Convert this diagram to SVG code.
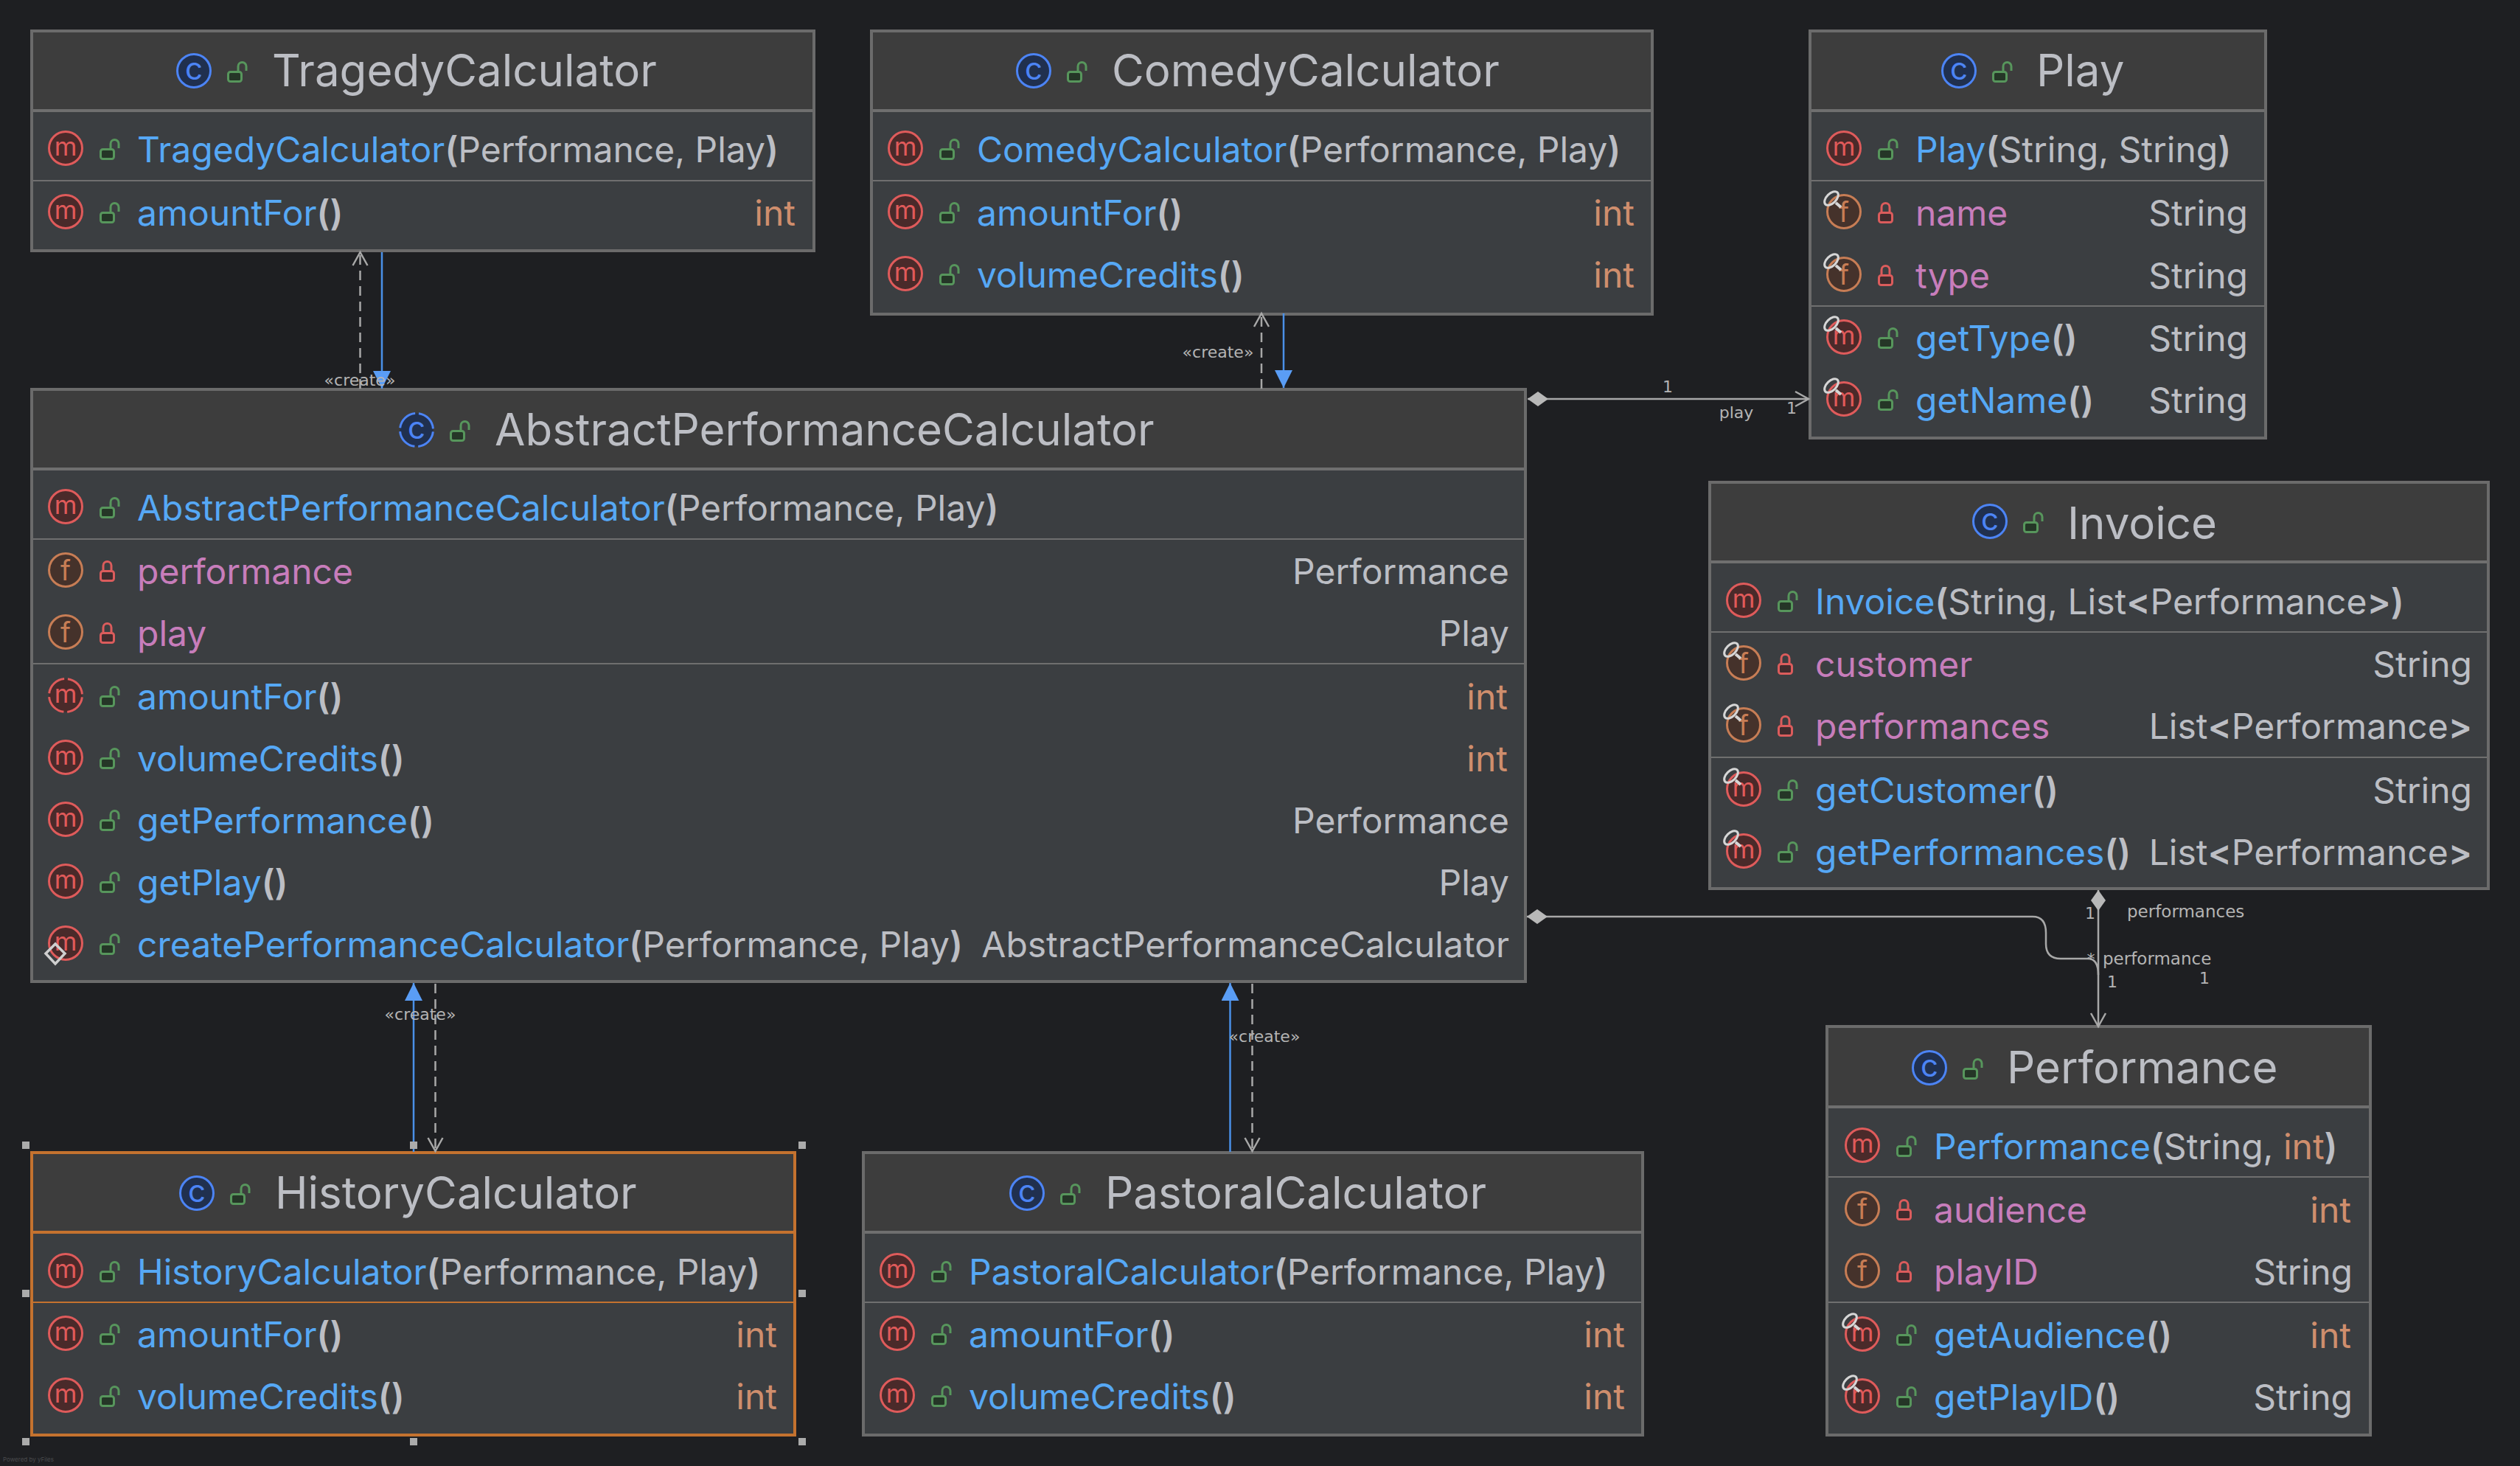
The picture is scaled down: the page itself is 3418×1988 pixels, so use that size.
<svg xmlns="http://www.w3.org/2000/svg" width="3418" height="1988" viewBox="0 0 3418 1988">
<style>
text{font-family:"Inter","Noto Sans","Liberation Sans",sans-serif;white-space:pre}
.box{fill:#3B3E41;stroke:#6B6B6B;stroke-width:4}
.hd{fill:#3D3D3D}
.hl{stroke:#6F6F6F;stroke-width:4}
.sl{stroke:#6F6F6F;stroke-width:2}
.sel .box{stroke:#C4722F}.sel .hl,.sel .sl{stroke:#C4722F}
.t{font-size:60px;fill:#BCBEC4;transform:translateY(2px)}
.n{font-size:48px;fill:#56A8F5;transform:translate(1px,1px)}
.fd{font-size:48px;fill:#C77DBB;transform:translate(1px,1px)}
.ty{font-size:48px;fill:#BCBEC4;text-anchor:end;transform:translate(2px,1px)}
.i{font-size:48px;fill:#CF8E6D;text-anchor:end;transform:translateY(1px)}
.b{font-weight:600;fill:#BCBEC4}
.o{fill:#CF8E6D}
.g{fill:#BCBEC4}
.gm{font-size:35px;fill:#E05A5A;text-anchor:middle}
.gf{font-size:38px;fill:#C77D55;text-anchor:middle}
.gc{font-size:42px;fill:#4C84F5;text-anchor:middle}
.lbl{font-family:"DejaVu Sans",sans-serif;font-size:22px;fill:#B4B4B4}
.lw{font-size:23px}
.con{fill:none;stroke:#A8A8A8;stroke-width:2.5}
.dash{stroke-dasharray:13 8}
.inh{fill:none;stroke:#4A90E8;stroke-width:2.5}
.hnd{fill:#ABABAB}
</style>
<defs>
<circle id="cm" r="22.5" fill="#4A2A2A" stroke="#DF5B5B" stroke-width="3"/>
<circle id="cma" r="22.5" fill="#4A2A2A" stroke="#DF5B5B" stroke-width="3" stroke-dasharray="30.3 5" stroke-dashoffset="-2.5"/>
<circle id="cf" r="22.5" fill="#45322B" stroke="#C77D55" stroke-width="3"/>
<circle id="cc" r="22.5" fill="#20304F" stroke="#4C84F5" stroke-width="3"/>
<circle id="cca" r="22.5" fill="#20304F" stroke="#4C84F5" stroke-width="3" stroke-dasharray="30.3 5" stroke-dashoffset="-2.5"/>
<g id="lo" fill="#253627" stroke="#57965C" stroke-width="3"><rect x="1.5" y="1.5" width="18" height="13" rx="3"/><path d="M15 0V-6a5.5 5.5 0 0 1 11 0V0" fill="none"/></g>
<g id="lc" fill="#402B2D" stroke="#DB5C5C" stroke-width="3"><rect x="1.5" y="1.5" width="18" height="13" rx="3"/><path d="M5 0V-6a5.5 5.5 0 0 1 11 0V0" fill="none"/></g>
<g id="tag" fill="none" stroke="#D6D6D6"><ellipse cx="-17" cy="-18" rx="11.5" ry="6.5" transform="rotate(-45 -17 -18)" stroke-width="3"/><path d="M-11 -12L-4 -6" stroke-width="4"/></g>
<marker id="openA" markerUnits="userSpaceOnUse" markerWidth="24" markerHeight="26" refX="21" refY="13" orient="auto"><path d="M3 3L21 13L3 23" fill="none" stroke="#A8A8A8" stroke-width="2.5"/></marker>
<marker id="tri" markerUnits="userSpaceOnUse" markerWidth="24" markerHeight="24" refX="24" refY="12" orient="auto"><path d="M0 0L24 12L0 24Z" fill="#5A9DF5"/></marker>
<marker id="dia" markerUnits="userSpaceOnUse" markerWidth="28" markerHeight="20" refX="0" refY="10" orient="auto"><path d="M0 10L14 0L28 10L14 20Z" fill="#B8B8B8"/></marker>
</defs>
<rect width="3418" height="1988" fill="#1E1F22"/>

<g id="node-tragedy" transform="translate(41,40)">
<rect class="box" x="2" y="2" width="1061" height="298"/><rect class="hd" x="4" y="4" width="1057" height="104"/>
<path class="hl" d="M4 110H1061"/><path class="sl" d="M4 205H1061"/>
<use href="#cc" x="222" y="56"/><text class="gc" x="222" y="68">c</text><use href="#lo" x="267" y="56"/><text class="t" x="328" y="75">TragedyCalculator</text>
<use href="#cm" x="48" y="161"/><text class="gm" x="48" y="171">m</text><use href="#lo" x="94" y="161"/><text class="n" x="144" y="179">TragedyCalculator<tspan class="b">(</tspan><tspan class="g">Performance, Play</tspan><tspan class="b">)</tspan></text>
<use href="#cm" x="48" y="247"/><text class="gm" x="48" y="257">m</text><use href="#lo" x="94" y="247"/><text class="n" x="144" y="265">amountFor<tspan class="b">()</tspan></text><text class="i" x="1038" y="265">int</text>
</g>

<g id="node-comedy" transform="translate(1180,40)">
<rect class="box" x="2" y="2" width="1059" height="384"/><rect class="hd" x="4" y="4" width="1055" height="104"/>
<path class="hl" d="M4 110H1059"/><path class="sl" d="M4 205H1059"/>
<use href="#cc" x="222" y="56"/><text class="gc" x="222" y="68">c</text><use href="#lo" x="267" y="56"/><text class="t" x="328" y="75">ComedyCalculator</text>
<use href="#cm" x="48" y="161"/><text class="gm" x="48" y="171">m</text><use href="#lo" x="94" y="161"/><text class="n" x="144" y="179">ComedyCalculator<tspan class="b">(</tspan><tspan class="g">Performance, Play</tspan><tspan class="b">)</tspan></text>
<use href="#cm" x="48" y="247"/><text class="gm" x="48" y="257">m</text><use href="#lo" x="94" y="247"/><text class="n" x="144" y="265">amountFor<tspan class="b">()</tspan></text><text class="i" x="1037" y="265">int</text>
<use href="#cm" x="48" y="331"/><text class="gm" x="48" y="341">m</text><use href="#lo" x="94" y="331"/><text class="n" x="144" y="349">volumeCredits<tspan class="b">()</tspan></text><text class="i" x="1037" y="349">int</text>
</g>

<g id="node-play" transform="translate(2453,40)">
<rect class="box" x="2" y="2" width="618" height="552"/><rect class="hd" x="4" y="4" width="614" height="104"/>
<path class="hl" d="M4 110H618"/><path class="sl" d="M4 205H618M4 375H618"/>
<use href="#cc" x="204" y="56"/><text class="gc" x="204" y="68">c</text><use href="#lo" x="249" y="56"/><text class="t" x="309" y="75">Play</text>
<use href="#cm" x="48" y="161"/><text class="gm" x="48" y="171">m</text><use href="#lo" x="94" y="161"/><text class="n" x="144" y="179">Play<tspan class="b">(</tspan><tspan class="g">String, String</tspan><tspan class="b">)</tspan></text>
<use href="#cf" x="48" y="247"/><text class="gf" x="48" y="261">f</text><use href="#tag" x="48" y="247"/><use href="#lc" x="94" y="247"/><text class="fd" x="144" y="265">name</text><text class="ty" x="594" y="265">String</text>
<use href="#cf" x="48" y="332"/><text class="gf" x="48" y="346">f</text><use href="#tag" x="48" y="332"/><use href="#lc" x="94" y="332"/><text class="fd" x="144" y="350">type</text><text class="ty" x="594" y="350">String</text>
<use href="#cm" x="48" y="417"/><text class="gm" x="48" y="427">m</text><use href="#tag" x="48" y="417"/><use href="#lo" x="94" y="417"/><text class="n" x="144" y="435">getType<tspan class="b">()</tspan></text><text class="ty" x="594" y="435">String</text>
<use href="#cm" x="48" y="501"/><text class="gm" x="48" y="511">m</text><use href="#tag" x="48" y="501"/><use href="#lo" x="94" y="501"/><text class="n" x="144" y="519">getName<tspan class="b">()</tspan></text><text class="ty" x="594" y="519">String</text>
</g>

<g id="node-abstract" transform="translate(41,527)">
<rect class="box" x="2" y="1" width="2026" height="803"/><rect class="hd" x="4" y="3" width="2022" height="105"/>
<path class="hl" d="M4 109H2026"/><path class="sl" d="M4 204H2026M4 373H2026"/>
<use href="#cca" x="524" y="56"/><text class="gc" x="524" y="68">c</text><use href="#lo" x="569" y="56"/><text class="t" x="630" y="75">AbstractPerformanceCalculator</text>
<use href="#cm" x="48" y="160"/><text class="gm" x="48" y="170">m</text><use href="#lo" x="94" y="160"/><text class="n" x="144" y="178">AbstractPerformanceCalculator<tspan class="b">(</tspan><tspan class="g">Performance, Play</tspan><tspan class="b">)</tspan></text>
<use href="#cf" x="48" y="246"/><text class="gf" x="48" y="260">f</text><use href="#lc" x="94" y="246"/><text class="fd" x="144" y="264">performance</text><text class="ty" x="2004" y="264">Performance</text>
<use href="#cf" x="48" y="330"/><text class="gf" x="48" y="344">f</text><use href="#lc" x="94" y="330"/><text class="fd" x="144" y="348">play</text><text class="ty" x="2004" y="348">Play</text>
<use href="#cma" x="48" y="416"/><text class="gm" x="48" y="426">m</text><use href="#lo" x="94" y="416"/><text class="n" x="144" y="434">amountFor<tspan class="b">()</tspan></text><text class="i" x="2004" y="434">int</text>
<use href="#cm" x="48" y="500"/><text class="gm" x="48" y="510">m</text><use href="#lo" x="94" y="500"/><text class="n" x="144" y="518">volumeCredits<tspan class="b">()</tspan></text><text class="i" x="2004" y="518">int</text>
<use href="#cm" x="48" y="584"/><text class="gm" x="48" y="594">m</text><use href="#lo" x="94" y="584"/><text class="n" x="144" y="602">getPerformance<tspan class="b">()</tspan></text><text class="ty" x="2004" y="602">Performance</text>
<use href="#cm" x="48" y="668"/><text class="gm" x="48" y="678">m</text><use href="#lo" x="94" y="668"/><text class="n" x="144" y="686">getPlay<tspan class="b">()</tspan></text><text class="ty" x="2004" y="686">Play</text>
<use href="#cm" x="48" y="752"/><text class="gm" x="48" y="762">m</text><path d="M34 752L47 765L34 779L21 765Z" transform="translate(0,1)" fill="none" stroke="#CFCFCF" stroke-width="3.5"/><use href="#lo" x="94" y="752"/><text class="n" x="144" y="770">createPerformanceCalculator<tspan class="b">(</tspan><tspan class="g">Performance, Play</tspan><tspan class="b">)</tspan></text><text class="ty" x="2004" y="770">AbstractPerformanceCalculator</text>
</g>

<g id="node-invoice" transform="translate(2317,654)">
<rect class="box" x="2" y="0" width="1056" height="551"/><rect class="hd" x="4" y="2" width="1052" height="106"/>
<path class="hl" d="M4 108H1056"/><path class="sl" d="M4 203H1056M4 373H1056"/>
<use href="#cc" x="382" y="53"/><text class="gc" x="382" y="65">c</text><use href="#lo" x="427" y="53"/><text class="t" x="487" y="75">Invoice</text>
<use href="#cm" x="48" y="160"/><text class="gm" x="48" y="170">m</text><use href="#lo" x="94" y="160"/><text class="n" x="144" y="178">Invoice<tspan class="b">(</tspan><tspan class="g">String, List</tspan><tspan class="b">&lt;</tspan><tspan class="g">Performance</tspan><tspan class="b">&gt;)</tspan></text>
<use href="#cf" x="48" y="245"/><text class="gf" x="48" y="259">f</text><use href="#tag" x="48" y="245"/><use href="#lc" x="94" y="245"/><text class="fd" x="144" y="263">customer</text><text class="ty" x="1034" y="263">String</text>
<use href="#cf" x="48" y="329"/><text class="gf" x="48" y="343">f</text><use href="#tag" x="48" y="329"/><use href="#lc" x="94" y="329"/><text class="fd" x="144" y="347">performances</text><text class="ty" x="1034" y="347"><tspan>List</tspan><tspan class="b">&lt;</tspan>Performance<tspan class="b">&gt;</tspan></text>
<use href="#cm" x="48" y="416"/><text class="gm" x="48" y="426">m</text><use href="#tag" x="48" y="416"/><use href="#lo" x="94" y="416"/><text class="n" x="144" y="434">getCustomer<tspan class="b">()</tspan></text><text class="ty" x="1034" y="434">String</text>
<use href="#cm" x="48" y="500"/><text class="gm" x="48" y="510">m</text><use href="#tag" x="48" y="500"/><use href="#lo" x="94" y="500"/><text class="n" x="144" y="518">getPerformances<tspan class="b">()</tspan></text><text class="ty" x="1034" y="518"><tspan>List</tspan><tspan class="b">&lt;</tspan>Performance<tspan class="b">&gt;</tspan></text>
</g>

<g id="node-performance" transform="translate(2478,1392)">
<rect class="box" x="0" y="0" width="737" height="554"/><rect class="hd" x="2" y="2" width="733" height="106"/>
<path class="hl" d="M2 109H735"/><path class="sl" d="M2 204H735M2 374H735"/>
<use href="#cc" x="139" y="56"/><text class="gc" x="139" y="68">c</text><use href="#lo" x="184" y="56"/><text class="t" x="244" y="75">Performance</text>
<use href="#cm" x="48" y="161"/><text class="gm" x="48" y="171">m</text><use href="#lo" x="94" y="161"/><text class="n" x="144" y="179">Performance<tspan class="b">(</tspan><tspan class="g">String, </tspan><tspan class="o">int</tspan><tspan class="b">)</tspan></text>
<use href="#cf" x="48" y="247"/><text class="gf" x="48" y="261">f</text><use href="#lc" x="94" y="247"/><text class="fd" x="144" y="265">audience</text><text class="i" x="711" y="265">int</text>
<use href="#cf" x="48" y="331"/><text class="gf" x="48" y="345">f</text><use href="#lc" x="94" y="331"/><text class="fd" x="144" y="349">playID</text><text class="ty" x="711" y="349">String</text>
<use href="#cm" x="48" y="417"/><text class="gm" x="48" y="427">m</text><use href="#tag" x="48" y="417"/><use href="#lo" x="94" y="417"/><text class="n" x="144" y="435">getAudience<tspan class="b">()</tspan></text><text class="i" x="711" y="435">int</text>
<use href="#cm" x="48" y="501"/><text class="gm" x="48" y="511">m</text><use href="#tag" x="48" y="501"/><use href="#lo" x="94" y="501"/><text class="n" x="144" y="519">getPlayID<tspan class="b">()</tspan></text><text class="ty" x="711" y="519">String</text>
</g>

<g id="node-history" class="sel" transform="translate(41,1562)">
<rect class="box" x="2" y="1" width="1035" height="383"/><rect class="hd" x="4" y="3" width="1031" height="105"/>
<path class="hl" d="M4 109H1035"/><path class="sl" d="M4 204H1035"/>
<use href="#cc" x="226" y="56"/><text class="gc" x="226" y="68">c</text><use href="#lo" x="271" y="56"/><text class="t" x="332" y="75">HistoryCalculator</text>
<use href="#cm" x="48" y="161"/><text class="gm" x="48" y="171">m</text><use href="#lo" x="94" y="161"/><text class="n" x="144" y="179">HistoryCalculator<tspan class="b">(</tspan><tspan class="g">Performance, Play</tspan><tspan class="b">)</tspan></text>
<use href="#cm" x="48" y="246"/><text class="gm" x="48" y="256">m</text><use href="#lo" x="94" y="246"/><text class="n" x="144" y="264">amountFor<tspan class="b">()</tspan></text><text class="i" x="1013" y="264">int</text>
<use href="#cm" x="48" y="330"/><text class="gm" x="48" y="340">m</text><use href="#lo" x="94" y="330"/><text class="n" x="144" y="348">volumeCredits<tspan class="b">()</tspan></text><text class="i" x="1013" y="348">int</text>
</g>

<g id="node-pastoral" transform="translate(1169,1562)">
<rect class="box" x="2" y="1" width="1057" height="383"/><rect class="hd" x="4" y="3" width="1053" height="105"/>
<path class="hl" d="M4 109H1057"/><path class="sl" d="M4 204H1057"/>
<use href="#cc" x="224" y="56"/><text class="gc" x="224" y="68">c</text><use href="#lo" x="269" y="56"/><text class="t" x="330" y="75">PastoralCalculator</text>
<use href="#cm" x="48" y="161"/><text class="gm" x="48" y="171">m</text><use href="#lo" x="94" y="161"/><text class="n" x="144" y="179">PastoralCalculator<tspan class="b">(</tspan><tspan class="g">Performance, Play</tspan><tspan class="b">)</tspan></text>
<use href="#cm" x="48" y="246"/><text class="gm" x="48" y="256">m</text><use href="#lo" x="94" y="246"/><text class="n" x="144" y="264">amountFor<tspan class="b">()</tspan></text><text class="i" x="1035" y="264">int</text>
<use href="#cm" x="48" y="330"/><text class="gm" x="48" y="340">m</text><use href="#lo" x="94" y="330"/><text class="n" x="144" y="348">volumeCredits<tspan class="b">()</tspan></text><text class="i" x="1035" y="348">int</text>
</g>

<g id="connectors">
<path class="con dash" d="M488.5 527V342" marker-end="url(#openA)"/>
<path class="inh" d="M518 342V527" marker-end="url(#tri)"/>
<text class="lbl" x="488" y="523" text-anchor="middle">«create»</text>
<path class="con dash" d="M1711 527V425" marker-end="url(#openA)"/>
<path class="inh" d="M1741 425V526" marker-end="url(#tri)"/>
<text class="lbl" x="1652" y="485" text-anchor="middle">«create»</text>
<path class="con" d="M2072 541H2453" marker-start="url(#dia)" marker-end="url(#openA)"/>
<text class="lbl" x="2262" y="532" text-anchor="middle">1</text>
<text class="lbl" x="2355" y="567" text-anchor="middle">play</text>
<text class="lbl" x="2430" y="561" text-anchor="middle">1</text>
<path class="con" d="M2846 1207V1392" marker-start="url(#dia)" marker-end="url(#openA)"/>
<path class="con" d="M2071 1243H2757Q2775 1243 2775 1265V1280Q2775 1300 2795 1300H2832Q2846 1300 2846 1322" marker-start="url(#dia)"/>
<text class="lbl" x="2835" y="1246" text-anchor="middle">1</text>
<text class="lbl lw" x="2885" y="1244">performances</text>
<text class="lbl" x="2836" y="1308" text-anchor="middle">*</text>
<text class="lbl lw" x="2852" y="1308">performance</text>
<text class="lbl" x="2865" y="1339" text-anchor="middle">1</text>
<text class="lbl" x="2990" y="1334" text-anchor="middle">1</text>
<path class="inh" d="M561 1562V1333" marker-end="url(#tri)"/>
<path class="con dash" d="M590.5 1334V1561" marker-end="url(#openA)"/>
<text class="lbl" x="570" y="1383" text-anchor="middle">«create»</text>
<path class="inh" d="M1668.5 1562V1333" marker-end="url(#tri)"/>
<path class="con dash" d="M1698.5 1334V1561" marker-end="url(#openA)"/>
<text class="lbl" x="1715" y="1413" text-anchor="middle">«create»</text>
</g>

<g id="selection-handles">
<rect class="hnd" x="30" y="1548" width="10" height="10"/><rect class="hnd" x="556" y="1548" width="10" height="10"/><rect class="hnd" x="1083" y="1548" width="10" height="10"/>
<rect class="hnd" x="30" y="1749" width="10" height="10"/><rect class="hnd" x="1083" y="1749" width="10" height="10"/>
<rect class="hnd" x="30" y="1950" width="10" height="10"/><rect class="hnd" x="556" y="1950" width="10" height="10"/><rect class="hnd" x="1083" y="1950" width="10" height="10"/>
</g>
<text x="4" y="1982" font-size="8" fill="#4A4B4E">Powered by yFiles</text>
</svg>
